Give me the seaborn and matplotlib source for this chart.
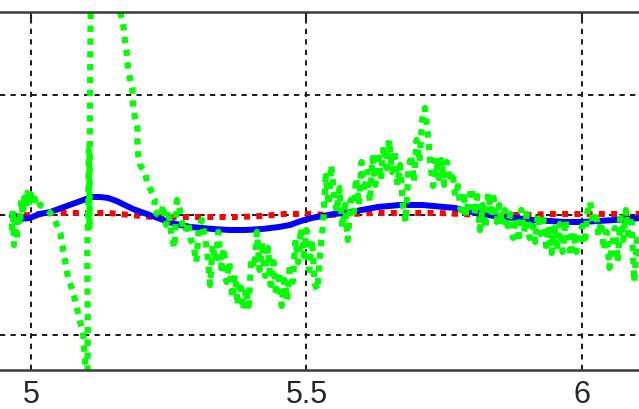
import matplotlib
matplotlib.use('Agg')
import matplotlib.pyplot as plt
import seaborn as sns

# red reference (dotted, almost flat)
red_x = [4.965, 5.000, 5.030, 5.060, 5.100, 5.140, 5.180, 5.220, 5.260, 5.300,
         5.340, 5.380, 5.420, 5.460, 5.500, 5.540, 5.580, 5.620, 5.660, 5.700,
         5.740, 5.780, 5.820, 5.860, 5.900, 5.940, 5.980, 6.020, 6.060, 6.105]
red_y = [-0.01, 0.00, 0.02, 0.02, 0.02, 0.02, 0.00, -0.02, -0.02, -0.02,
         -0.02, -0.02, -0.01, 0.01, 0.01, 0.00, 0.01, 0.02, 0.02, 0.02,
         0.02, 0.01, 0.00, 0.00, 0.00, 0.01, 0.01, 0.01, 0.01, 0.01]

# blue estimate (solid, smooth)
blue_x = [4.965, 4.980, 4.998, 5.016, 5.035, 5.055, 5.075, 5.095, 5.110, 5.125,
          5.140, 5.155, 5.170, 5.185, 5.200, 5.215, 5.230, 5.250, 5.270, 5.290,
          5.310, 5.330, 5.360, 5.390, 5.420, 5.450, 5.470, 5.490, 5.510, 5.530,
          5.550, 5.570, 5.590, 5.610, 5.630, 5.650, 5.670, 5.690, 5.710, 5.730,
          5.750, 5.770, 5.790, 5.810, 5.830, 5.850, 5.880, 5.910, 5.940, 5.970,
          6.000, 6.030, 6.060, 6.090, 6.105]
blue_y = [-0.01, -0.04, -0.03, 0.01, 0.03, 0.07, 0.11, 0.15, 0.18, 0.18,
          0.17, 0.14, 0.10, 0.06, 0.03, 0.00, -0.03, -0.07, -0.10, -0.12,
          -0.13, -0.14, -0.15, -0.15, -0.14, -0.12, -0.10, -0.06, -0.03, -0.01,
          0.01, 0.02, 0.04, 0.06, 0.08, 0.09, 0.10, 0.10, 0.10, 0.09,
          0.08, 0.07, 0.04, 0.02, 0.00, -0.02, -0.03, -0.05, -0.06, -0.07,
          -0.07, -0.06, -0.05, -0.04, -0.03]

# green measurement, first part with the big spike
green_x_head = [4.965, 4.967, 4.969, 4.971, 4.974, 4.976, 4.980, 4.982, 4.985, 4.987,
                4.991, 4.993, 4.996, 4.998, 5.002, 5.005, 5.009, 5.013, 5.016, 5.022,
                5.029, 5.035, 5.040, 5.044, 5.049, 5.053, 5.056, 5.062, 5.067, 5.075,
                5.080, 5.084, 5.089, 5.093, 5.095, 5.096, 5.098, 5.100, 5.102, 5.103,
                5.102, 5.104, 5.105, 5.106, 5.107, 5.109, 5.111, 5.130, 5.156, 5.162,
                5.167, 5.171, 5.175, 5.176, 5.180, 5.184, 5.185, 5.189, 5.193, 5.193,
                5.195, 5.198, 5.207, 5.211, 5.220, 5.225, 5.222, 5.231]
green_y_head = [-0.15, 0.05, -0.30, -0.05, -0.25, 0.00, -0.10, 0.15, 0.00, 0.17,
                0.07, 0.22, 0.10, 0.23, 0.15, 0.19, 0.12, 0.15, 0.10, 0.08,
                0.05, 0.02, -0.02, -0.06, -0.13, -0.18, -0.28, -0.47, -0.62, -0.75,
                -0.85, -0.95, -1.07, -1.15, -1.21, -1.30, -1.45, -1.65, -2.15, -1.15,
                -0.35, 0.15, 0.65, -0.15, 1.15, 2.65, 4.15, 6.15, 2.75, 2.02,
                1.92, 1.72, 1.57, 1.45, 1.35, 1.25, 1.08, 0.97, 0.87, 0.73,
                0.58, 0.50, 0.42, 0.32, 0.22, 0.15, 0.05, 0.00]

# green measurement, noisy tail
green_x_tail = [5.235, 5.240, 5.245, 5.250, 5.255, 5.260, 5.265, 5.270, 5.275, 5.280,
                5.285, 5.290, 5.295, 5.300, 5.305, 5.310, 5.315, 5.320, 5.325, 5.330,
                5.335, 5.340, 5.345, 5.350, 5.355, 5.360, 5.365, 5.370, 5.375, 5.380,
                5.385, 5.390, 5.395, 5.400, 5.405, 5.410, 5.415, 5.420, 5.425, 5.430,
                5.435, 5.440, 5.445, 5.450, 5.455, 5.460, 5.465, 5.470, 5.475, 5.480,
                5.485, 5.490, 5.495, 5.500, 5.505, 5.510, 5.515, 5.520, 5.525, 5.530,
                5.535, 5.540, 5.545, 5.550, 5.555, 5.560, 5.565, 5.570, 5.575, 5.580,
                5.585, 5.590, 5.595, 5.600, 5.605, 5.610, 5.615, 5.620, 5.625, 5.630,
                5.635, 5.640, 5.645, 5.650, 5.655, 5.660, 5.665, 5.670, 5.675, 5.680,
                5.685, 5.690, 5.695, 5.700, 5.705, 5.710, 5.715, 5.720, 5.725, 5.730,
                5.735, 5.740, 5.745, 5.750, 5.755, 5.760, 5.765, 5.770, 5.775, 5.780,
                5.785, 5.790, 5.795, 5.800, 5.805, 5.810, 5.815, 5.820, 5.825, 5.830,
                5.835, 5.840, 5.845, 5.850, 5.855, 5.860, 5.865, 5.870, 5.875, 5.880,
                5.885, 5.890, 5.895, 5.900, 5.905, 5.910, 5.915, 5.920, 5.925, 5.930,
                5.935, 5.940, 5.945, 5.950, 5.955, 5.960, 5.965, 5.970, 5.975, 5.980,
                5.985, 5.990, 5.995, 6.000, 6.005, 6.010, 6.015, 6.020, 6.025, 6.030,
                6.035, 6.040, 6.045, 6.050, 6.055, 6.060, 6.065, 6.070, 6.075, 6.080,
                6.085, 6.090, 6.095, 6.100, 6.105]
green_y_tail = [-0.02, 0.10, -0.10, 0.00, -0.20, -0.33, 0.15, 0.05, -0.10, -0.17,
                -0.07, -0.25, -0.30, -0.47, -0.10, -0.05, -0.20, -0.37, -0.70, -0.30,
                -0.47, -0.17, -0.53, -0.33, -0.67, -0.47, -0.83, -0.60, -0.90, -0.67,
                -0.95, -0.73, -0.91, -0.43, -0.53, -0.17, -0.55, -0.27, -0.61, -0.33,
                -0.70, -0.47, -0.81, -0.57, -0.91, -0.65, -0.85, -0.49, -0.67, -0.25,
                -0.47, -0.13, -0.41, -0.15, -0.55, -0.25, -0.69, -0.75, -0.35, -0.10,
                0.39, 0.10, 0.50, 0.20, 0.03, 0.27, -0.13, 0.10, -0.25, 0.15,
                -0.03, 0.37, 0.10, 0.53, 0.23, 0.43, 0.13, 0.57, 0.30, 0.63,
                0.35, 0.69, 0.47, 0.75, 0.43, 0.65, 0.30, 0.50, 0.10, -0.07,
                0.43, 0.60, 0.33, 0.75, 0.53, 0.95, 1.07, 0.83, 0.50, 0.29,
                0.57, 0.37, 0.55, 0.30, 0.53, 0.33, 0.43, 0.19, 0.29, 0.05,
                0.23, -0.01, 0.17, 0.27, 0.00, 0.19, -0.15, 0.10, -0.13, 0.22,
                0.03, 0.17, -0.07, 0.10, -0.10, 0.05, -0.11, 0.01, -0.23, -0.03,
                -0.27, 0.05, -0.17, 0.01, -0.23, -0.05, -0.27, 0.01, -0.19, -0.05,
                -0.31, -0.11, -0.38, -0.13, -0.31, -0.09, -0.37, -0.05, -0.23, -0.41,
                -0.17, -0.37, -0.23, -0.11, -0.29, 0.03, 0.13, -0.09, 0.03, -0.21,
                -0.07, -0.35, -0.17, -0.53, -0.29, -0.13, -0.47, -0.03, -0.25, 0.05,
                -0.25, -0.07, -0.67, -0.25, -0.47]

x_ticks = [5, 5.5, 6]
x_labels = ['5', '5.5', '6']
y_ticks = [-1.2, 0, 1.2]

green_x = green_x_head + green_x_tail
green_y = green_y_head + green_y_tail

sns.set_style("white")
plt.rcParams['font.family'] = ['Liberation Sans', 'DejaVu Sans']

fig = plt.figure(figsize=(6.39, 4.09), dpi=100)
ax = fig.add_axes([0, 0.0954, 1, 0.8753])

dots = (0, (1, 1.05))
sns.lineplot(x=red_x, y=red_y, ax=ax, color=(1, 0, 0), lw=4.3, linestyle=dots,
             estimator=None, sort=False)
sns.lineplot(x=blue_x, y=blue_y, ax=ax, color=(0, 0, 1), lw=4.3,
             estimator=None, sort=False)
sns.lineplot(x=green_x, y=green_y, ax=ax, color=(0, 1, 0), lw=4.5, linestyle=dots,
             estimator=None, sort=False)

ax.set_xlim(4.9436, 6.1036)
ax.set_ylim(-1.55, 2.03)
ax.set_xticks(x_ticks)
ax.set_xticklabels(x_labels)
ax.set_yticks(y_ticks)
ax.set_yticklabels([])
ax.set_xlabel('')
ax.set_ylabel('')

ax.set_axisbelow(True)
ax.grid(True, color='#1a1a1a', linestyle=(0, (2.7, 2.7)), linewidth=1.4)

ax.tick_params(axis='x', direction='in', length=8, width=1.5, top=True,
               labelsize=22, pad=7, colors='#262626')
ax.tick_params(axis='y', length=0)

for side in ['left', 'right']:
    ax.spines[side].set_visible(False)
for side in ['top', 'bottom']:
    ax.spines[side].set_color('#3a3a3a')
    ax.spines[side].set_linewidth(1.8)

fig.savefig('out.png', dpi=100)
plt.close()
